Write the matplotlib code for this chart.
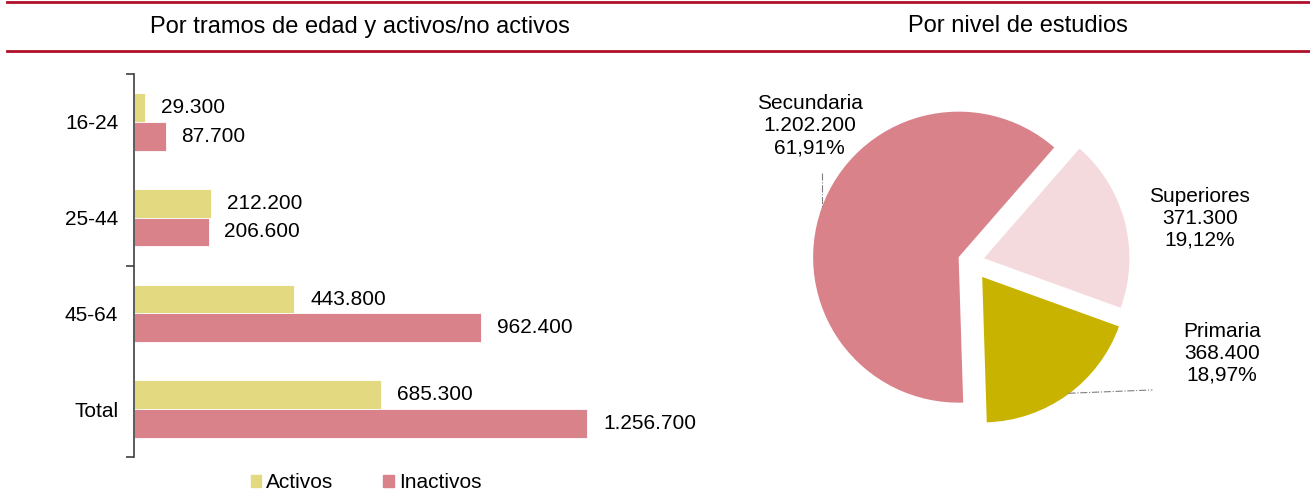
import numpy as np
import matplotlib.pyplot as plt
from matplotlib.patches import Patch
from matplotlib.lines import Line2D

plt.rcParams['font.family'] = ['Liberation Sans', 'DejaVu Sans']

# datos barras
edades = ['16-24', '25-44', '45-64', 'Total']
activos = [29300, 212200, 443800, 685300]
inactivos = [87700, 206600, 962400, 1256700]

# datos tarta (orden antihorario desde abajo)
estudios = ['Primaria', 'Superiores', 'Secundaria']
personas = [368400, 371300, 1202200]
porcentajes = ['18,97%', '19,12%', '61,91%']

col_act = '#E2D980'
col_inact = '#D9828A'
col_pie = ['#C8B400', '#F4DADD', '#D9828A']
rojo = '#B0102A'

W, H = 1310, 493
fig = plt.figure(figsize=(W / 100, H / 100), dpi=100)


def px(x0, y0, x1, y1):
    # caja en pixeles (origen arriba-izq) -> fraccion de figura
    return [x0 / W, 1 - y1 / H, (x1 - x0) / W, (y1 - y0) / H]


def miles(v):
    return f'{v:,}'.replace(',', '.')


# lineas rojas y titulos
for yy in (1.5, 50.5):
    fig.add_artist(Line2D([7 / W, 1], [1 - yy / H] * 2, transform=fig.transFigure,
                          color=rojo, lw=2))
fig.text(360 / W, 1 - 26.5 / H, 'Por tramos de edad y activos/no activos',
         ha='center', va='center', fontsize=17)
fig.text(1018 / W, 1 - 26.5 / H, 'Por nivel de estudios',
         ha='center', va='center', fontsize=17)

# barras
ax = fig.add_axes(px(134, 74, 639, 457))
y = np.arange(len(edades))
h = 0.30
ax.barh(y - h / 2, activos, height=h, color=col_act, edgecolor='white', linewidth=0.6)
ax.barh(y + h / 2, inactivos, height=h, color=col_inact, edgecolor='white', linewidth=0.6)
for yy, vals in ((y - h / 2, activos), (y + h / 2, inactivos)):
    for yi, v in zip(yy, vals):
        ax.annotate(miles(v), (v, yi), xytext=(11.5, 0), textcoords='offset points',
                    ha='left', va='center', fontsize=15)
ax.set_xlim(0, 1400000)
ax.set_ylim(3.5, -0.5)
ax.set_xticks([])
ax.set_yticks(y, edades)
ax.set_yticks([-0.5, 1.5, 3.5], minor=True)
ax.tick_params(axis='y', which='major', length=0, pad=11.3, labelsize=15)
ax.tick_params(axis='y', which='minor', length=5.5, width=1.2, color='#404040')
for s in ['top', 'right', 'bottom']:
    ax.spines[s].set_visible(False)
ax.spines['left'].set_color('#404040')
ax.spines['left'].set_linewidth(1.2)

fig.legend(handles=[Patch(color=col_act, label='Activos'),
                    Patch(color=col_inact, label='Inactivos')],
           loc='center', bbox_to_anchor=(366 / W, 1 - 483 / H), ncol=2, frameon=False,
           fontsize=15, handlelength=0.5, handleheight=0.5, handletextpad=0.25,
           columnspacing=2.4, borderpad=0)

# tarta
cx, cy, r = 971.1, 261.6, 145.5
pa = fig.add_axes(px(cx - 1.9 * r, cy - 1.7 * r, cx + 1.9 * r, cy + 1.7 * r))
pa.pie(personas, colors=col_pie, startangle=-88.2, explode=[0.13, 0.091, 0.091])
pa.set_aspect('auto')
pa.set_xlim(-1.9, 1.9)
pa.set_ylim(-1.7, 1.7)
pa.axis('off')

pos = [(1.724, -0.630), (1.573, 0.298), (-1.109, 0.934)]
for (lx, ly), nom, v, p in zip(pos, estudios, personas, porcentajes):
    pa.text(lx, ly, f'{nom}\n{miles(v)}\n{p}', ha='center', va='center', fontsize=15)

pa.plot([-1.027, -1.027], [0.611, 0.377], color='#808080', lw=0.8, ls='-.')
pa.plot([0.669, 1.246], [-0.905, -0.882], color='#808080', lw=0.8, ls='-.')

fig.savefig('out.png', dpi=100)
